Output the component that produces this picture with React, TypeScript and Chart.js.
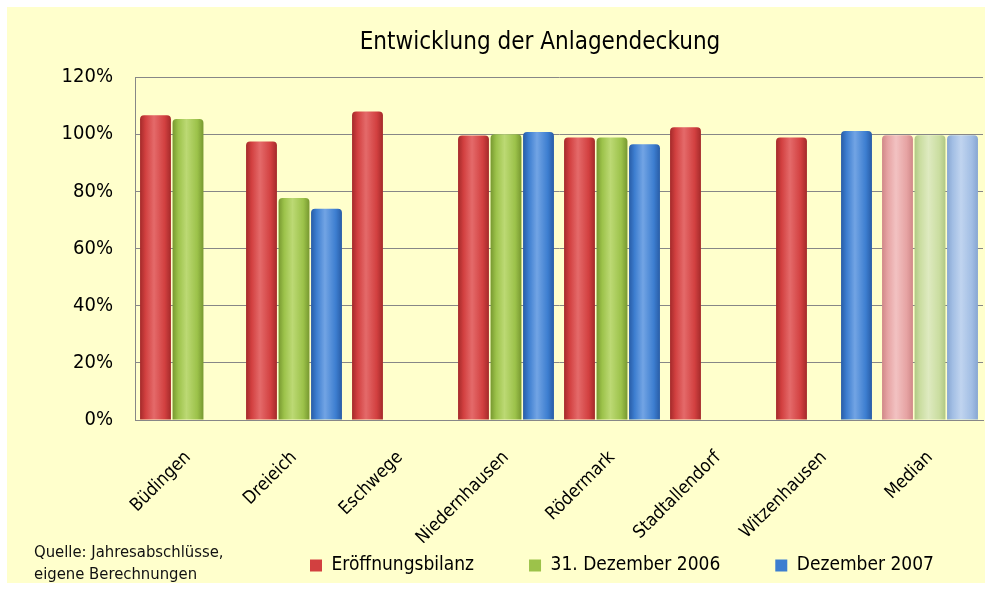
import React, { useEffect, useRef } from 'react';
import { Chart, registerables } from 'chart.js';

Chart.register(...registerables);

// ---------- data ----------
const categories = ['Büdingen', 'Dreieich', 'Eschwege', 'Niedernhausen', 'Rödermark', 'Stadtallendorf', 'Witzenhausen', 'Median'];
const seriesNames = ['Eröffnungsbilanz', '31. Dezember 2006', 'Dezember 2007'];
const eroeffnungsbilanz = [106.6, 97.4, 107.9, 99.5, 98.8, 102.4, 98.8, 99.6];
const dezember2006 = [105.3, 77.7, null, 100.0, 98.8, null, null, 99.6];
const dezember2007 = [null, 73.9, null, 100.8, 96.5, null, 101.1, 99.6];
const yMax = 120;
const yStep = 20;
const titleText = 'Entwicklung der Anlagendeckung';
const sourceLines = ['Quelle: Jahresabschlüsse,', 'eigene Berechnungen'];
const medianLabel = 'Median';

// ---------- styles ----------
const FONT = 'Tahoma, "DejaVu Sans Condensed", "DejaVu Sans", sans-serif';
const BG = '#FFFFCC';
const GRID = '#878787';
// [dark edge, mid, light centre]
const shades = [
  ['#A42A2A', '#D24040', '#E46A6A'],
  ['#779830', '#9CC24A', '#BCD974'],
  ['#285CA6', '#3D7ED0', '#72A4E4'],
];
const paleShades = [
  ['#D08888', '#E6A3A3', '#F2C2C2'],
  ['#B0C884', '#CADDA0', '#DEEAC0'],
  ['#87A6D2', '#A2BEE4', '#C0D4EF'],
];

const barShading = {
  id: 'barShading',
  afterDatasetsUpdate(chart: any) {
    const ctx = chart.ctx;
    const mi = categories.indexOf(medianLabel);
    chart.data.datasets.forEach((_ds: any, di: number) => {
      const meta = chart.getDatasetMeta(di);
      meta.data.forEach((el: any, i: number) => {
        const { x, width } = el.getProps(['x', 'width'], true);
        if (!isFinite(x) || !isFinite(width)) return;
        const s = i === mi ? paleShades[di] : shades[di];
        const g = ctx.createLinearGradient(x - width / 2, 0, x + width / 2, 0);
        g.addColorStop(0, s[0]);
        g.addColorStop(0.18, s[1]);
        g.addColorStop(0.45, s[2]);
        g.addColorStop(0.8, s[1]);
        g.addColorStop(1, s[0]);
        el.options = Object.assign({}, el.options, { backgroundColor: g, $shared: false });
      });
    });
  },
};

const boxPlacement = {
  id: 'boxPlacement',
  afterLayout(chart: any, _args: any, opts: any) {
    const t = chart.titleBlock;
    if (t) t.left = opts.titleLeft;
    const lg = chart.legend;
    if (lg) {
      const p = lg.options.labels.padding;
      lg.left = opts.legendFirstX - p;
      lg.right = chart.width + 2 * p;
      lg.top = opts.legendItemTop - p;
      lg.bottom = chart.height;
    }
  },
};

export default function App() {
  const ref = useRef<HTMLCanvasElement | null>(null);

  useEffect(() => {
    document.body.style.margin = '0';
    const canvas = ref.current;
    if (!canvas) return;
    const chart = new Chart(canvas, {
      type: 'bar',
      data: {
        labels: categories,
        datasets: [
          { label: seriesNames[0], data: eroeffnungsbilanz, backgroundColor: shades[0][1] },
          { label: seriesNames[1], data: dezember2006, backgroundColor: shades[1][1] },
          { label: seriesNames[2], data: dezember2007, backgroundColor: shades[2][1] },
        ],
      },
      plugins: [barShading, boxPlacement],
      options: {
        responsive: false,
        animation: false,
        devicePixelRatio: 1,
        layout: { padding: { left: 0, right: 2, top: 0, bottom: 0 } },
        datasets: {
          bar: {
            categoryPercentage: 0.92,
            barPercentage: 0.95,
            borderWidth: 0,
            borderRadius: { topLeft: 4, topRight: 4, bottomLeft: 0, bottomRight: 0 },
            borderSkipped: 'bottom',
          },
        },
        scales: {
          x: {
            grid: { display: false },
            border: { display: true, color: GRID, width: 1 },
            ticks: {
              color: '#000',
              font: { family: FONT, size: 18 },
              minRotation: 45,
              maxRotation: 45,
              autoSkip: false,
              padding: 19,
            },
            afterFit: (s: any) => { s.height = 123; },
          },
          y: {
            min: 0,
            max: yMax,
            grid: { color: GRID, lineWidth: 1, drawTicks: false },
            border: { display: true, color: GRID, width: 1 },
            ticks: {
              stepSize: yStep,
              color: '#000',
              padding: 22,
              font: { family: FONT, size: 20 },
              callback: (v: any) => v + '%',
            },
            afterFit: (s: any) => { s.width = 128; },
          },
        },
        plugins: {
          title: {
            display: true,
            text: titleText,
            color: '#000',
            font: { family: FONT, size: 24, weight: 'normal' },
            padding: { top: 21, bottom: 20.2 },
          },
          legend: {
            display: true,
            position: 'bottom',
            align: 'start',
            maxHeight: 40,
            labels: {
              color: '#000',
              font: { family: FONT, size: 19 },
              boxWidth: 12,
              boxHeight: 12,
              padding: 55,
            },
          },
          tooltip: { enabled: false },
          boxPlacement: { titleLeft: 90, legendFirstX: 303, legendItemTop: 549 },
        } as any,
      },
    });
    return () => chart.destroy();
  }, []);

  return (
    <div style={{ position: 'relative', width: 992, height: 590, background: '#fff', overflow: 'hidden' }}>
      <div style={{ position: 'absolute', left: 7, top: 7, width: 978, height: 576, background: BG }}>
        <canvas ref={ref} width={978} height={576} style={{ width: 978, height: 576, display: 'block' }} />
        <div
          style={{
            position: 'absolute',
            left: 27,
            top: 534,
            fontFamily: FONT,
            fontSize: 16.5,
            lineHeight: '22px',
            color: '#111',
          }}
        >
          {sourceLines.map((l) => (
            <div key={l}>{l}</div>
          ))}
        </div>
      </div>
    </div>
  );
}
